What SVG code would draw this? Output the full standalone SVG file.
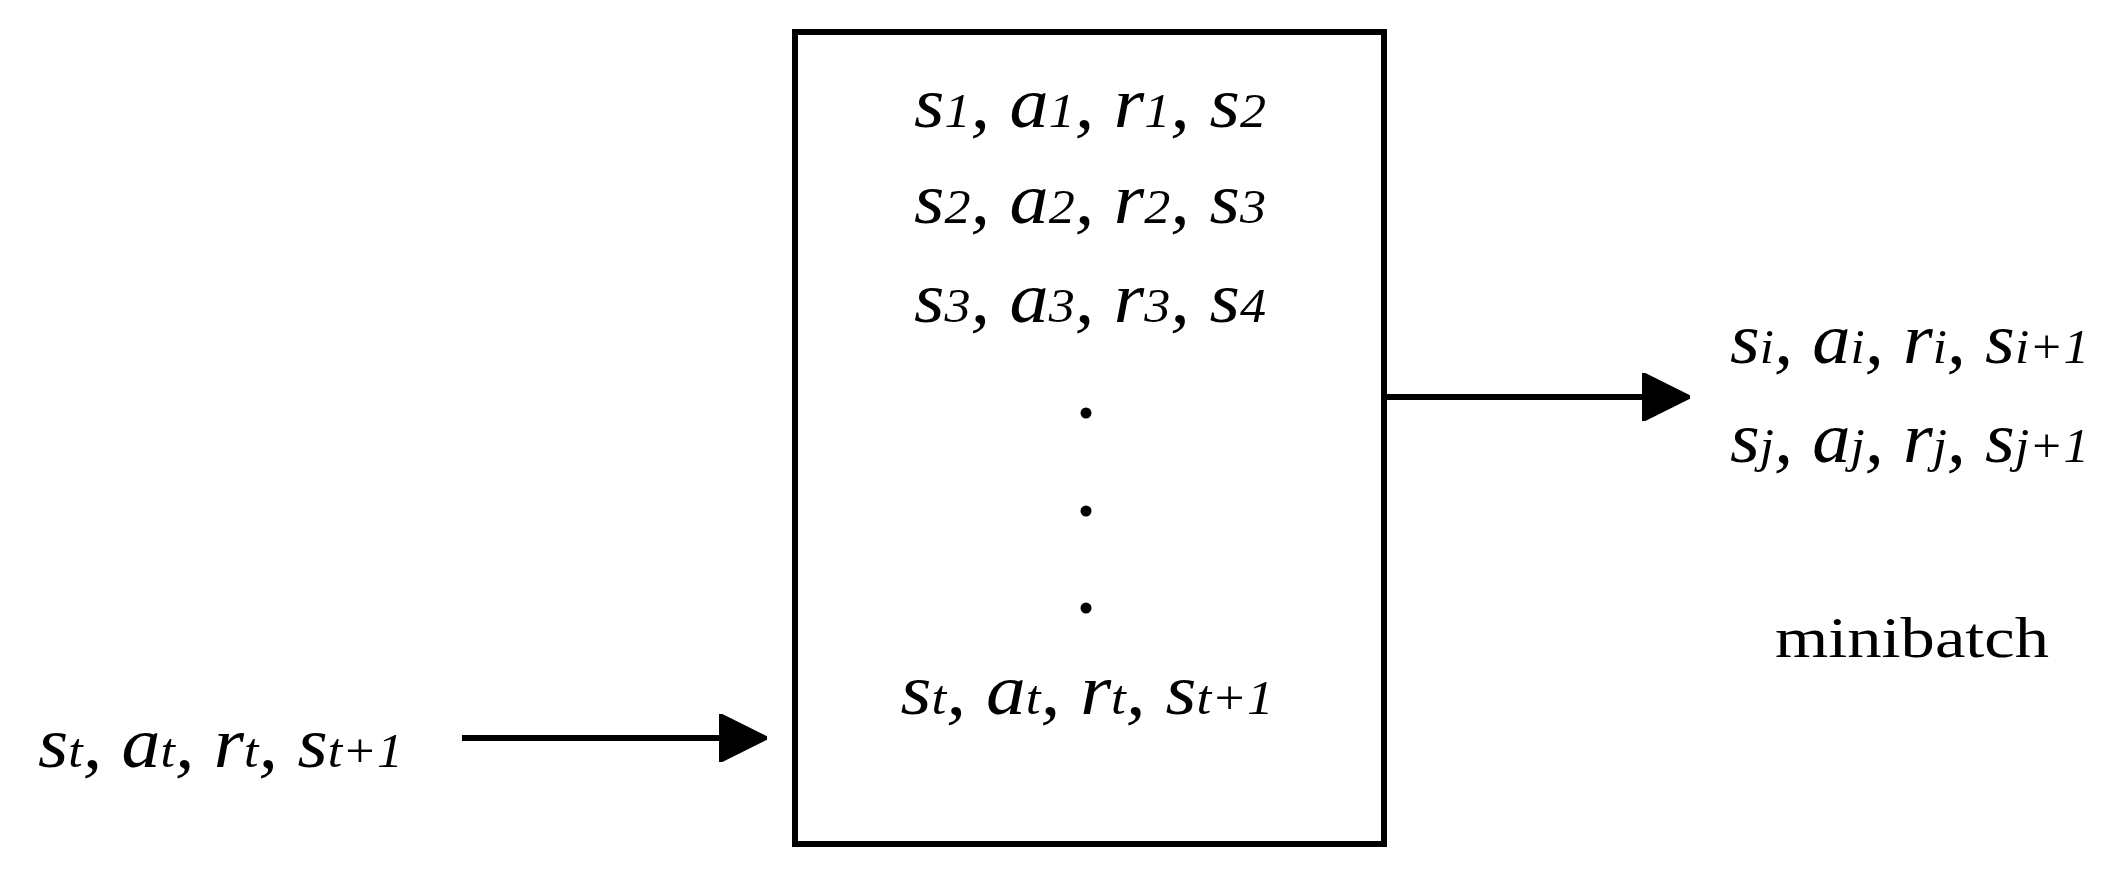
<svg xmlns="http://www.w3.org/2000/svg" width="2113" height="884" viewBox="0 0 2113 884">
<style>
.t{font-family:"Liberation Serif",serif;font-style:italic;font-size:72px;fill:#000}
.s{font-size:48px}
.m{font-family:"Liberation Serif",serif;font-size:57px;fill:#000}
</style>
<defs>
<marker id="ah" markerWidth="8" markerHeight="8" refX="7.5" refY="4" orient="auto" markerUnits="strokeWidth">
<path d="M0,0 L8,4 L0,8 Z" fill="#000" stroke="#000" stroke-width="0.5" stroke-linejoin="round"/>
</marker>
</defs>
<rect width="2113" height="884" fill="#fff"/>
<g id="buffer">
<rect x="795" y="32" width="589" height="812" fill="none" stroke="#000" stroke-width="6"/>
<text class="t" x="1090" y="127" text-anchor="middle" textLength="352" lengthAdjust="spacingAndGlyphs">s<tspan class="s">1</tspan>, a<tspan class="s">1</tspan>, r<tspan class="s">1</tspan>, s<tspan class="s">2</tspan></text>
<text class="t" x="1090" y="223" text-anchor="middle" textLength="352" lengthAdjust="spacingAndGlyphs">s<tspan class="s">2</tspan>, a<tspan class="s">2</tspan>, r<tspan class="s">2</tspan>, s<tspan class="s">3</tspan></text>
<text class="t" x="1090" y="322" text-anchor="middle" textLength="352" lengthAdjust="spacingAndGlyphs">s<tspan class="s">3</tspan>, a<tspan class="s">3</tspan>, r<tspan class="s">3</tspan>, s<tspan class="s">4</tspan></text>
<circle cx="1086" cy="413" r="5.5"/>
<circle cx="1086" cy="511" r="5.5"/>
<circle cx="1086" cy="608" r="5.5"/>
<text class="t" x="1087" y="714" text-anchor="middle" textLength="373" lengthAdjust="spacingAndGlyphs">s<tspan class="s">t</tspan>, a<tspan class="s">t</tspan>, r<tspan class="s">t</tspan>, s<tspan class="s">t+1</tspan></text>
</g>
<g id="input">
<text class="t" x="38" y="767" textLength="365" lengthAdjust="spacingAndGlyphs">s<tspan class="s">t</tspan>, a<tspan class="s">t</tspan>, r<tspan class="s">t</tspan>, s<tspan class="s">t+1</tspan></text>
</g>
<g id="minibatch">
<text class="t" x="1730" y="363" textLength="359" lengthAdjust="spacingAndGlyphs">s<tspan class="s">i</tspan>, a<tspan class="s">i</tspan>, r<tspan class="s">i</tspan>, s<tspan class="s">i+1</tspan></text>
<text class="t" x="1730" y="462" textLength="359" lengthAdjust="spacingAndGlyphs">s<tspan class="s">j</tspan>, a<tspan class="s">j</tspan>, r<tspan class="s">j</tspan>, s<tspan class="s">j+1</tspan></text>
<text class="m" x="1912" y="657" text-anchor="middle" textLength="274" lengthAdjust="spacingAndGlyphs">minibatch</text>
</g>
<g id="connectors" stroke="#000" stroke-width="6" fill="none">
<line x1="462" y1="738" x2="764" y2="738" marker-end="url(#ah)"/>
<line x1="1387" y1="397" x2="1687" y2="397" marker-end="url(#ah)"/>
</g>
</svg>
